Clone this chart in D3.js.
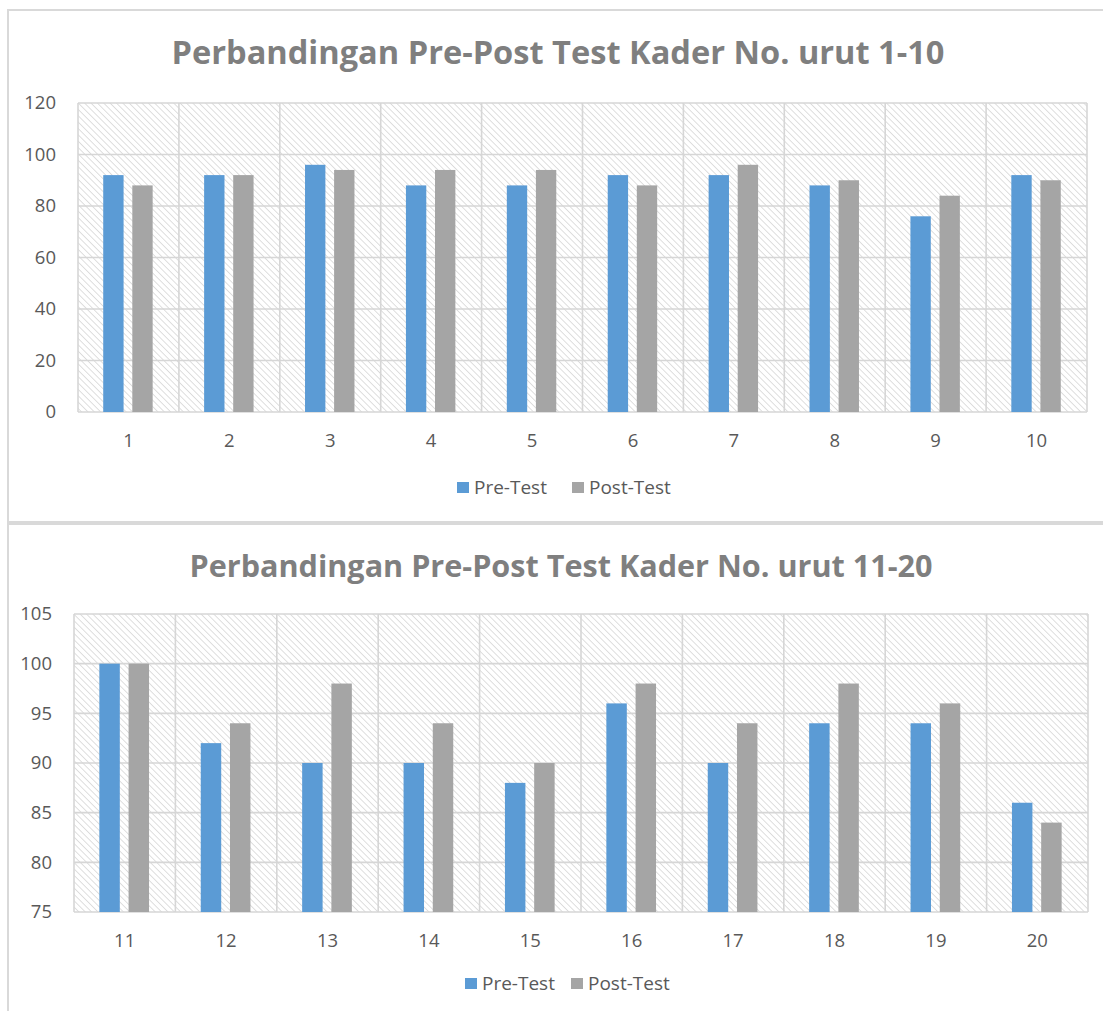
<!DOCTYPE html>
<html>
<head>
<meta charset="utf-8">
<script src="https://cdn.jsdelivr.net/npm/d3@7"></script>
<style>
  body { margin: 0; background: #fff; }
  text { font-family: "Open Sans", sans-serif; }
</style>
</head>
<body>
<div id="chart"></div>
<script>
// data
const series = ["Pre-Test", "Post-Test"];
const colors = ["#5b9bd5", "#a5a5a5"];

const topCategories = ["1", "2", "3", "4", "5", "6", "7", "8", "9", "10"];
const topPre  = [92, 92, 96, 88, 88, 92, 92, 88, 76, 92];
const topPost = [88, 92, 94, 94, 94, 88, 96, 90, 84, 90];
const topTicks = [0, 20, 40, 60, 80, 100, 120];
const topTitle = "Perbandingan Pre-Post Test Kader No. urut 1-10";

const botCategories = ["11", "12", "13", "14", "15", "16", "17", "18", "19", "20"];
const botPre  = [100, 92, 90, 90, 88, 96, 90, 94, 94, 86];
const botPost = [100, 94, 98, 94, 90, 98, 94, 98, 96, 84];
const botTicks = [75, 80, 85, 90, 95, 100, 105];
const botTitle = "Perbandingan Pre-Post Test Kader No. urut 11-20";

const W = 1103, H = 1011;

const svg = d3.select("#chart")
  .append("svg")
  .attr("width", W)
  .attr("height", H);

// diagonal hatch for plot area
const defs = svg.append("defs");
defs.append("pattern")
  .attr("id", "hatch")
  .attr("patternUnits", "userSpaceOnUse")
  .attr("width", 4.5)
  .attr("height", 4.5)
  .attr("patternTransform", "rotate(-45)")
  .append("line")
  .attr("x1", 0).attr("y1", 0)
  .attr("x2", 0).attr("y2", 4.5)
  .attr("stroke", "#cdcdcd")
  .attr("stroke-width", 1.3);

// outer frames
svg.append("rect")
  .attr("x", 8).attr("y", 10)
  .attr("width", 1110).attr("height", 512)
  .attr("fill", "none")
  .attr("stroke", "#d9d9d9")
  .attr("stroke-width", 2);

svg.append("rect")
  .attr("x", 8).attr("y", 524)
  .attr("width", 1110).attr("height", 500)
  .attr("fill", "none")
  .attr("stroke", "#d9d9d9")
  .attr("stroke-width", 2);

function drawChart(opt) {
  const g = svg.append("g");
  const pre = opt.pre, post = opt.post;

  const x = d3.scaleBand()
    .domain(opt.categories)
    .range([opt.left, opt.right])
    .padding(0);

  const x1 = d3.scaleBand()
    .domain(series)
    .range([x.bandwidth() * 0.25, x.bandwidth() * 0.74])
    .paddingInner(0.3);

  const y = d3.scaleLinear()
    .domain(opt.domain)
    .range([opt.bottom, opt.top]);

  // plot area background
  g.append("rect")
    .attr("x", opt.left).attr("y", opt.top)
    .attr("width", opt.right - opt.left)
    .attr("height", opt.bottom - opt.top)
    .attr("fill", "url(#hatch)");

  // horizontal gridlines
  g.append("g")
    .selectAll("line")
    .data(opt.ticks)
    .enter()
    .append("line")
    .attr("x1", opt.left).attr("x2", opt.right)
    .attr("y1", d => y(d)).attr("y2", d => y(d))
    .attr("stroke", "#d6d6d6")
    .attr("stroke-width", 1.6);

  // vertical gridlines at category edges
  const edges = opt.categories.map(c => x(c)).concat([opt.right]);
  g.append("g")
    .selectAll("line")
    .data(edges)
    .enter()
    .append("line")
    .attr("x1", d => d).attr("x2", d => d)
    .attr("y1", opt.top).attr("y2", opt.bottom)
    .attr("stroke", "#d6d6d6")
    .attr("stroke-width", 1.6);

  // bars
  const rows = opt.categories.map((c, i) => ({ cat: c, values: [pre[i], post[i]] }));
  const groups = g.append("g")
    .selectAll("g")
    .data(rows)
    .enter()
    .append("g")
    .attr("transform", d => `translate(${x(d.cat)},0)`);

  groups.selectAll("rect")
    .data(d => d.values.map((v, j) => ({ key: series[j], v: v, j: j })))
    .enter()
    .append("rect")
    .attr("x", d => x1(d.key))
    .attr("width", x1.bandwidth())
    .attr("y", d => y(d.v))
    .attr("height", d => opt.bottom - y(d.v))
    .attr("fill", d => colors[d.j]);

  // y axis labels
  const yAxis = d3.axisLeft(y).tickValues(opt.ticks).tickSize(0).tickPadding(22);
  const ya = g.append("g")
    .attr("transform", `translate(${opt.left},0)`)
    .call(yAxis);
  ya.select(".domain").remove();
  ya.selectAll("text")
    .style("font-size", "18.5px")
    .style("font-family", "'Open Sans', sans-serif")
    .attr("fill", "#595959");

  // x axis labels
  const xAxis = d3.axisBottom(x).tickSize(0).tickPadding(22);
  const xa = g.append("g")
    .attr("transform", `translate(0,${opt.bottom})`)
    .call(xAxis);
  xa.select(".domain").remove();
  xa.selectAll("text")
    .style("font-size", "18.5px")
    .style("font-family", "'Open Sans', sans-serif")
    .attr("fill", "#595959");

  // title
  g.append("text")
    .attr("x", opt.titleX)
    .attr("y", opt.titleY)
    .attr("text-anchor", "middle")
    .attr("textLength", opt.titleWidth)
    .attr("lengthAdjust", "spacingAndGlyphs")
    .style("font-size", opt.titleSize + "px")
    .style("font-weight", "bold")
    .attr("fill", "#7f7f7f")
    .text(opt.title);

  // legend
  const legend = g.append("g")
    .attr("transform", `translate(${opt.legendX},${opt.legendY})`);
  const legendX = [0, opt.legendGap];
  series.forEach((s, i) => {
    legend.append("rect")
      .attr("x", legendX[i]).attr("y", -12)
      .attr("width", 12).attr("height", 11)
      .attr("fill", colors[i]);
    legend.append("text")
      .attr("x", legendX[i] + 17).attr("y", 0)
      .style("font-size", "19px")
      .attr("fill", "#595959")
      .text(s);
  });
}

drawChart({
  categories: topCategories, pre: topPre, post: topPost, ticks: topTicks,
  domain: [0, 120], left: 78, right: 1087, top: 103, bottom: 412,
  title: topTitle, titleX: 558, titleY: 64, titleSize: 32, titleWidth: 773,
  legendX: 457, legendY: 494, legendGap: 115
});

drawChart({
  categories: botCategories, pre: botPre, post: botPost, ticks: botTicks,
  domain: [75, 105], left: 74, right: 1088, top: 614, bottom: 912,
  title: botTitle, titleX: 561, titleY: 577, titleSize: 30, titleWidth: 743,
  legendX: 465, legendY: 990, legendGap: 106
});
</script>
</body>
</html>
